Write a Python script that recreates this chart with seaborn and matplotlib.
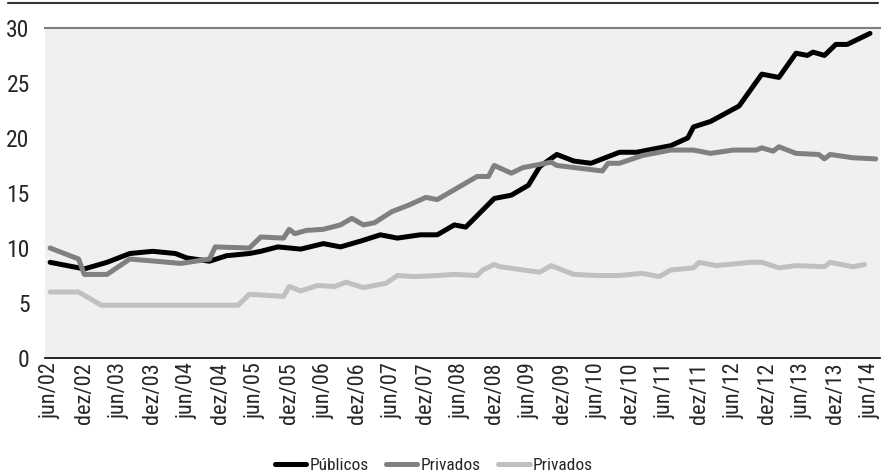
import numpy as np
import pandas as pd
import matplotlib
matplotlib.use("Agg")
import matplotlib.pyplot as plt
from matplotlib.lines import Line2D
import seaborn as sns

# months counted from jun/02 (0) to jun/14 (144)
pub_mes = [0, 6, 10, 14, 18, 22, 24, 28, 31, 35, 37, 40, 44, 48, 51, 55, 58, 61, 65, 68,
           71, 73, 78, 81, 84, 86, 89, 92, 95, 100, 103, 106, 109, 112, 113, 116, 121,
           125, 128, 131, 133, 134, 136, 138, 140, 144]
pub_val = [8.7, 8.1, 8.7, 9.5, 9.7, 9.5, 9.1, 8.8, 9.3, 9.5, 9.7, 10.1, 9.9, 10.4, 10.1,
           10.7, 11.2, 10.9, 11.2, 11.2, 12.1, 11.9, 14.5, 14.8, 15.7, 17.4, 18.5, 17.9,
           17.7, 18.7, 18.7, 19.0, 19.3, 20.0, 21.0, 21.5, 22.9, 25.8, 25.5, 27.7, 27.5,
           27.8, 27.5, 28.5, 28.5, 29.5]

priv1_mes = [0, 5, 6, 10, 14, 23, 28, 29, 35, 37, 41, 42, 43, 45, 48, 51, 53, 55, 57, 60,
             63, 66, 68, 70, 72, 75, 77, 78, 81, 83, 88, 89, 97, 98, 100, 104, 106, 109,
             113, 116, 120, 124, 125, 127, 128, 131, 135, 136, 137, 141, 145]
priv1_val = [10.0, 9.0, 7.6, 7.6, 9.0, 8.6, 9.0, 10.1, 10.0, 11.0, 10.9, 11.7, 11.3, 11.6,
             11.7, 12.1, 12.7, 12.1, 12.3, 13.3, 13.9, 14.6, 14.4, 15.0, 15.6, 16.5, 16.5,
             17.5, 16.8, 17.3, 17.8, 17.5, 17.0, 17.7, 17.7, 18.4, 18.6, 18.9, 18.9, 18.6,
             18.9, 18.9, 19.1, 18.8, 19.2, 18.6, 18.5, 18.1, 18.5, 18.2, 18.1]

priv2_mes = [0, 5, 7, 9, 33, 35, 41, 42, 44, 47, 50, 52, 55, 59, 61, 64, 68, 71, 75, 76,
             78, 79, 86, 88, 92, 96, 100, 104, 107, 109, 113, 114, 117, 119, 123, 125,
             128, 131, 136, 137, 141, 143]
priv2_val = [6.0, 6.0, 5.4, 4.8, 4.8, 5.8, 5.6, 6.5, 6.1, 6.6, 6.5, 6.9, 6.4, 6.8, 7.5,
             7.4, 7.5, 7.6, 7.5, 8.0, 8.5, 8.3, 7.8, 8.4, 7.6, 7.5, 7.5, 7.7, 7.4, 8.0,
             8.2, 8.7, 8.4, 8.5, 8.7, 8.7, 8.2, 8.4, 8.3, 8.7, 8.3, 8.5]

rotulos = ["jun/02", "dez/02", "jun/03", "dez/03", "jun/04", "dez/04", "jun/05", "dez/05",
           "jun/06", "dez/06", "jun/07", "dez/07", "jun/08", "dez/08", "jun/09", "dez/09",
           "jun/10", "dez/10", "jun/11", "dez/11", "jun/12", "dez/12", "jun/13", "dez/13",
           "jun/14"]

sns.set_style("white")
plt.rcParams['font.family'] = ['Roboto Condensed', 'Open Sans Condensed', 'DejaVu Sans']

fig = plt.figure(figsize=(8.82, 4.73), dpi=100)
ax = fig.add_axes([0.051, 0.243, 0.947, 0.698])
ax.set_facecolor("#f0f0f0")

sns.lineplot(x=pub_mes, y=pub_val, color="#000000", lw=3.6, label="Públicos", ax=ax)
sns.lineplot(x=priv1_mes, y=priv1_val, color="#808080", lw=3.6, label="Privados", ax=ax)
sns.lineplot(x=priv2_mes, y=priv2_val, color="#c0c0c0", lw=3.6, label="Privados", ax=ax)

ax.set_xlim(-0.9, 145.8)
ax.set_ylim(0, 30)
ax.set_yticks([0, 5, 10, 15, 20, 25, 30])
ax.set_xticks(np.arange(0, 145, 6))
ax.set_xticklabels(rotulos, rotation=90)
ax.tick_params(axis="x", length=0, pad=3, labelsize=16)
ax.tick_params(axis="y", length=0, pad=11, labelsize=17)

for s in ["left", "right"]:
    ax.spines[s].set_visible(False)
ax.spines["top"].set_color("#808080")
ax.spines["top"].set_linewidth(1.5)
ax.spines["bottom"].set_color("#000000")
ax.spines["bottom"].set_linewidth(1.2)

ax.get_legend().remove()
h, l = ax.get_legend_handles_labels()
fig.legend(h, l, loc="lower center", bbox_to_anchor=(0.492, -0.033), ncol=3,
           frameon=False, fontsize=12.5, handlelength=1.8, columnspacing=1.0,
           handletextpad=0.2)

fig.add_artist(Line2D([0.009, 0.995], [0.993, 0.993], color="#333333", lw=1.5))

fig.savefig("out.png", dpi=100)
